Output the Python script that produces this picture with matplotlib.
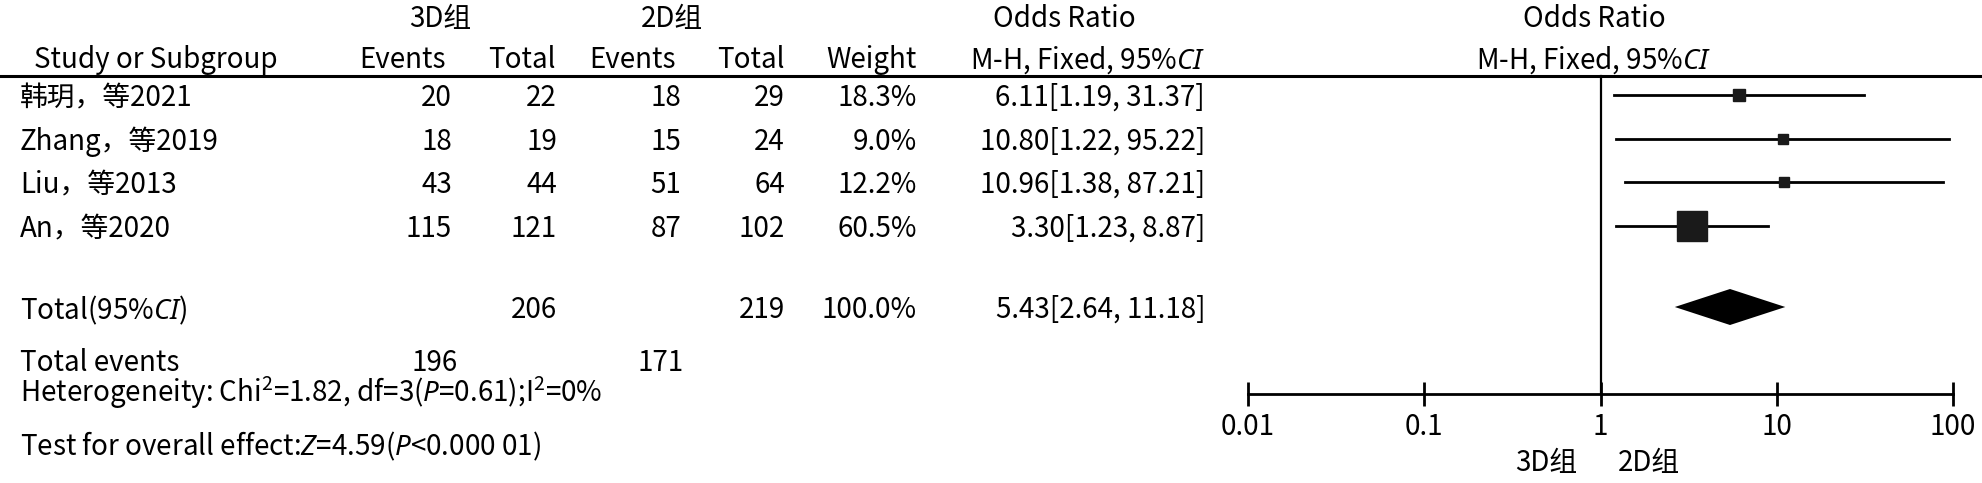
import matplotlib.pyplot as plt
from matplotlib.ticker import NullLocator

plt.rcParams['font.family'] = ['Noto Sans CJK SC', 'DejaVu Sans']
plt.rcParams['mathtext.fontset'] = 'custom'
plt.rcParams['mathtext.rm'] = 'Noto Sans CJK SC'
plt.rcParams['mathtext.it'] = 'Noto Sans:italic'

# data
studies = ['韩玥，等2021', 'Zhang，等2019', 'Liu，等2013', 'An，等2020']
ev_3d = [20, 18, 43, 115]
tot_3d = [22, 19, 44, 121]
ev_2d = [18, 15, 51, 87]
tot_2d = [29, 24, 64, 102]
weights = [18.3, 9.0, 12.2, 60.5]
or_val = [6.11, 10.80, 10.96, 3.30]
ci_lo = [1.19, 1.22, 1.38, 1.23]
ci_hi = [31.37, 95.22, 87.21, 8.87]

total_3d, total_2d = 206, 219
total_ev_3d, total_ev_2d = 196, 171
pooled = [5.43, 2.64, 11.18]
xticks = [0.01, 0.1, 1, 10, 100]
xtick_labels = ['0.01', '0.1', '1', '10', '100']

# layout (pixels)
W, H = 1982, 483
fs = 20
row_y = [95, 139, 182, 226]
txt_dy = 3   # text sits a bit lower than the marker centre
total_y, tev_y, het_y, test_y = 307, 363, 393, 446
line_y, axis_y = 76, 394
box_px = [13, 10, 11, 31]
col_r = [452, 557, 681, 785, 917, 1205]   # right edges of number columns

fig = plt.figure(figsize=(W / 100, H / 100), dpi=100)
ax = fig.add_axes([0, 0, 1, 1])
ax.set_xlim(0, W)
ax.set_ylim(H, 0)
ax.axis('off')

def t(x, y, s, ha='left'):
    ax.text(x, y, s, ha=ha, va='center', fontsize=fs)

# headers
t(440, 19, '3D组', 'center')
t(672, 19, '2D组', 'center')
t(1064, 19, 'Odds Ratio', 'center')
t(1594, 19, 'Odds Ratio', 'center')
t(34, 60, 'Study or Subgroup')
t(446, 60, 'Events', 'right')
t(556, 60, 'Total', 'right')
t(676, 60, 'Events', 'right')
t(785, 60, 'Total', 'right')
t(917, 60, 'Weight', 'right')
t(1205, 60, r'M-H, Fixed, 95%$\mathit{CI}$', 'right')
t(1594, 60, r'M-H, Fixed, 95%$\mathit{CI}$', 'center')
ax.plot([0, W], [line_y, line_y], color='black', lw=2.2)

# study rows
for i, name in enumerate(studies):
    y = row_y[i] + txt_dy
    t(20, y, name)
    t(col_r[0], y, str(ev_3d[i]), 'right')
    t(col_r[1], y, str(tot_3d[i]), 'right')
    t(col_r[2], y, str(ev_2d[i]), 'right')
    t(col_r[3], y, str(tot_2d[i]), 'right')
    t(col_r[4], y, f'{weights[i]:.1f}%', 'right')
    t(col_r[5], y, f'{or_val[i]:.2f}[{ci_lo[i]:.2f}, {ci_hi[i]:.2f}]', 'right')

# totals
ty = total_y + txt_dy
t(20, ty, r'Total(95%$\mathit{CI}$)')
t(col_r[1], ty, str(total_3d), 'right')
t(col_r[3], ty, str(total_2d), 'right')
t(col_r[4], ty, f'{sum(weights):.1f}%', 'right')
t(col_r[5], ty, f'{pooled[0]:.2f}[{pooled[1]:.2f}, {pooled[2]:.2f}]', 'right')
t(20, tev_y, 'Total events')
t(458, tev_y, str(total_ev_3d), 'right')
t(684, tev_y, str(total_ev_2d), 'right')
t(20, het_y, r'Heterogeneity: Chi$^{2}$=1.82, df=3($\mathit{P}$=0.61);I$^{2}$=0%')
t(20, test_y, r'Test for overall effect:$\mathit{Z}$=4.59($\mathit{P}$<0.000 01)')

# forest panel
x0, x1 = 1248, 1953
axf = fig.add_axes([x0 / W, 0, (x1 - x0) / W, 1])
axf.set_xscale('log')
axf.set_xlim(0.01, 100)
axf.set_ylim(H, 0)
axf.patch.set_visible(False)
for s in ['top', 'left', 'right']:
    axf.spines[s].set_visible(False)
axf.spines['bottom'].set_position(('data', axis_y))
axf.spines['bottom'].set_linewidth(2)
axf.set_xticks(xticks, xtick_labels)
axf.xaxis.set_minor_locator(NullLocator())
axf.tick_params(axis='x', direction='inout', length=17, width=2, labelsize=fs, pad=4.5)
axf.set_yticks([])

axf.plot([1, 1], [line_y, axis_y], color='black', lw=1.6)
for i in range(len(studies)):
    y = row_y[i]
    axf.plot([ci_lo[i], ci_hi[i]], [y, y], color='black', lw=2)
    axf.plot(or_val[i], y, marker='s', ms=box_px[i] / 1.389, color='#1a1a1a', mec='#1a1a1a')

axf.fill([pooled[1], pooled[0], pooled[2], pooled[0]],
         [total_y, total_y - 18, total_y, total_y + 18], color='black', lw=0)

t(1577, 463, '3D组', 'right')
t(1618, 463, '2D组', 'left')

fig.savefig('out.png', dpi=100)
